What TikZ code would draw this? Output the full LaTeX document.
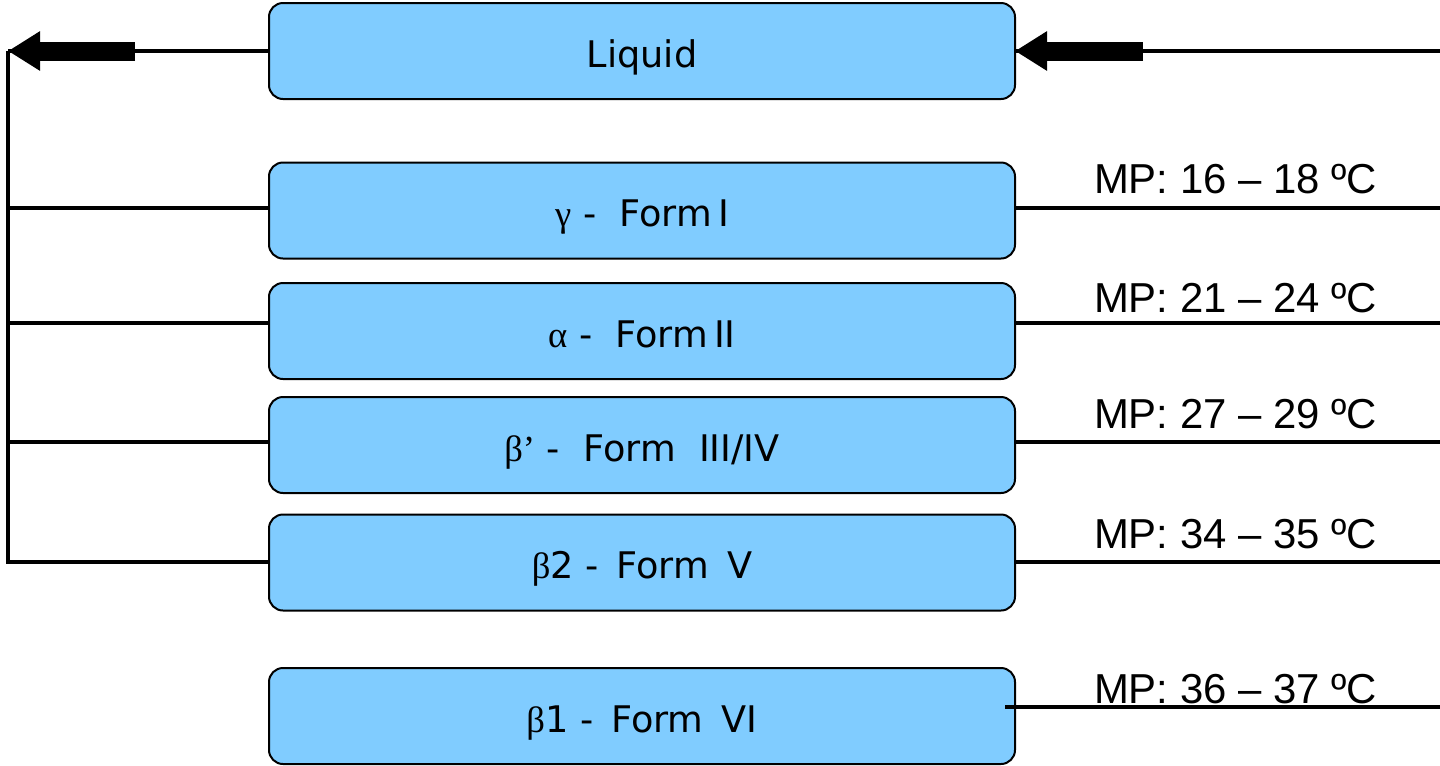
\documentclass[tikz,border=0pt]{standalone}
\usepackage{fontspec}
\setmainfont{DejaVu Sans}
\newfontfamily\grk{Liberation Serif}
\newfontfamily\ari{Liberation Sans}
\usetikzlibrary{arrows.meta}
\definecolor{boxblue}{RGB}{128,204,255}
\newcommand{\wsp}{\hspace{13.5pt}}
\tikzset{
 formbox/.style={draw=black, line width=1.5pt, fill=boxblue, rounded corners=10.5pt,
   minimum width=559.5pt, minimum height=72pt, inner sep=0pt, outer sep=0pt,
   font=\fontsize{27.5}{30}\selectfont, text height=24.5pt, text depth=0pt},
 conn/.style={line width=2.5pt},
 fatarrow/.style={line width=14.25pt, -{Triangle[length=24pt,width=28pt]}},
 mplabel/.style={font=\ari\fontsize{31.4}{34}\selectfont, anchor=base, inner sep=0pt},
}
\begin{document}
\begin{tikzpicture}[x=0.75pt,y=-0.75pt]
\useasboundingbox (0,0) rectangle (1440,765);
% boxes
\node[formbox] (liq) at (642,51) {Liquid};
\node[formbox] (g) at (642,210.5) {{\grk γ} -\ \ Form\,I};
\node[formbox] (a) at (642,331) {{\grk α} -\ \ Form\,II};
\node[formbox] (bp) at (642,445) {{\grk β’} -\ \ Form\ \ III/IV};
\node[formbox] (b2) at (642,562.5) {{\grk β}2 -\wsp Form\wsp V};
\node[formbox] (b1) at (642,716) {{\grk β}1 -\wsp Form\wsp VI};
% coordinates
\coordinate (tl) at (8,51);
\coordinate (tlf) at (135,51);
\coordinate (tr) at (1440,51);
\coordinate (trf) at (1143,51);
\coordinate (jg) at (8,208);
\coordinate (ja) at (8,323);
\coordinate (jbp) at (8,442);
\coordinate (jb2) at (8,562);
\coordinate (rg) at (1440,208);
\coordinate (ra) at (1440,323);
\coordinate (rbp) at (1440,442);
\coordinate (rb2) at (1440,562);
\coordinate (rb1) at (1440,707);
% top arrows
\draw[conn] (liq.west) -- (tl);
\draw[fatarrow] (tlf) -- (tl);
\draw[conn] (tr) -- (liq.east);
\draw[fatarrow] (trf) -- (liq.east);
% left bus
\draw[conn] (tl) -- (jb2) -- (jb2 -| b2.west);
\draw[conn] (jg) -- (jg -| g.west);
\draw[conn] (ja) -- (ja -| a.west);
\draw[conn] (jbp) -- (jbp -| bp.west);
% right lines
\draw[conn] (rg) -- (rg -| g.east);
\draw[conn] (ra) -- (ra -| a.east);
\draw[conn] (rbp) -- (rbp -| bp.east);
\draw[conn] (rb2) -- (rb2 -| b2.east);
\draw[conn] (rb1) -- ([xshift=-7.5pt]rb1 -| b1.east);
% labels
\node[mplabel] (lg) at (1235.5,193) {MP: 16 – 18 ºC};
\node[mplabel] (la) at (1235.5,312) {MP: 21 – 24 ºC};
\node[mplabel] (lbp) at (1235.5,428) {MP: 27 – 29 ºC};
\node[mplabel] (lb2) at (1235.5,548) {MP: 34 – 35 ºC};
\node[mplabel] (lb1) at (1235.5,703) {MP: 36 – 37 ºC};
\end{tikzpicture}
\end{document}
